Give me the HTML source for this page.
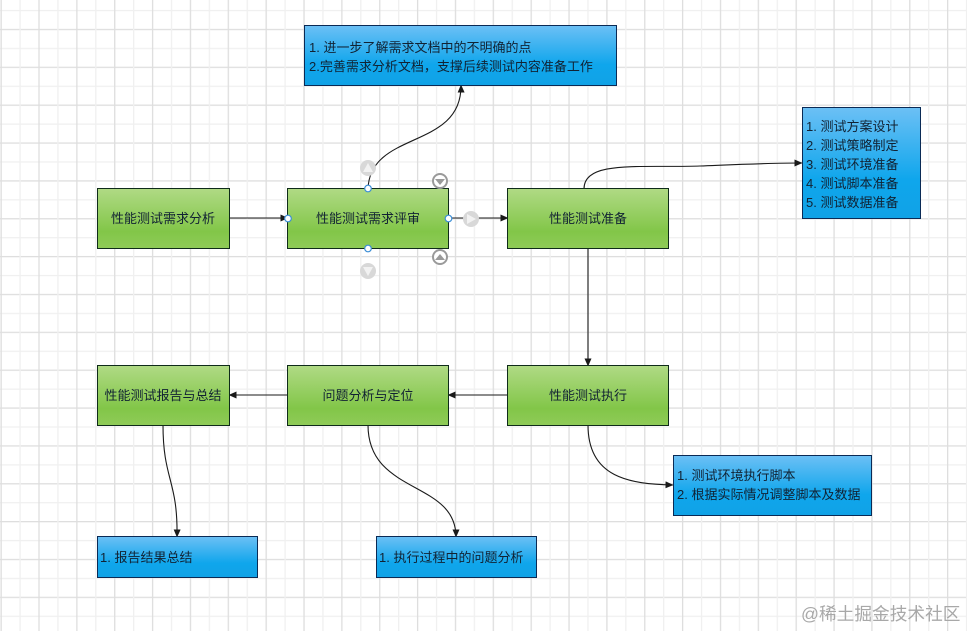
<!DOCTYPE html>
<html lang="zh">
<head>
<meta charset="utf-8">
<style>
html,body{margin:0;padding:0;background:#fff}
svg{display:block}
text{font-family:"Liberation Sans","Noto Sans CJK SC",sans-serif;font-size:13px;fill:#123}
</style>
</head>
<body>
<svg width="967" height="631" viewBox="0 0 967 631" xmlns="http://www.w3.org/2000/svg">
<defs>
<linearGradient id="g" x1="0" y1="0" x2="0" y2="1">
<stop offset="0" stop-color="#b0da85"/><stop offset=".72" stop-color="#82c648"/><stop offset="1" stop-color="#8fcb58"/>
</linearGradient>
<linearGradient id="b" x1="0" y1="0" x2="0" y2="1">
<stop offset="0" stop-color="#6cc0f5"/><stop offset=".65" stop-color="#0fa6ec"/><stop offset="1" stop-color="#10a2e6"/>
</linearGradient>
<marker id="a" markerWidth="8" markerHeight="7" refX="7.500" refY="3.500" orient="auto" markerUnits="userSpaceOnUse">
<path d="M0 0L8 3.500L0 7z" fill="#1a1a1a"/>
</marker>
<pattern id="gv" x="0.5" y="0" width="37.86" height="40" patternUnits="userSpaceOnUse">
<rect x="0" y="0" width="1.3" height="40" fill="#dedede"/>
<rect x="18.93" y="0" width="1.3" height="40" fill="#f0f0f0"/>
</pattern>
<pattern id="gh" x="0" y="9.9" width="40" height="37.86" patternUnits="userSpaceOnUse">
<rect x="0" y="0" width="40" height="1.3" fill="#f0f0f0"/>
<rect x="0" y="18.93" width="40" height="1.3" fill="#dedede"/>
</pattern>
</defs>
<rect width="967" height="631" fill="#fff"/>
<rect width="967" height="631" fill="url(#gh)"/>
<rect width="967" height="631" fill="url(#gv)"/>

<g fill="none" stroke="#1a1a1a" stroke-width="1.1">
<path d="M229 218H288" marker-end="url(#a)"/>
<path d="M448 218H508" marker-end="url(#a)"/>
<path d="M368 189C370 130 462 150 461 85" marker-end="url(#a)"/>
<path d="M584 189C584 160 640 168 700 166C750 164 770 163 802 163" marker-end="url(#a)"/>
<path d="M588 248V366" marker-end="url(#a)"/>
<path d="M508 395H448" marker-end="url(#a)"/>
<path d="M288 395H229" marker-end="url(#a)"/>
<path d="M588 425C588 478 630 484 673 485" marker-end="url(#a)"/>
<path d="M368 425C368 495 456 480 456 537" marker-end="url(#a)"/>
<path d="M163 425C163 480 178 480 177 537" marker-end="url(#a)"/>
</g>

<g stroke="#0f2b1a" stroke-width="1">
<rect x="97.5" y="188.5" width="132" height="60" fill="url(#g)"/>
<rect x="287.5" y="188.5" width="161" height="60" fill="url(#g)"/>
<rect x="507.5" y="188.5" width="161" height="60" fill="url(#g)"/>
<rect x="97.5" y="365.5" width="132" height="60" fill="url(#g)"/>
<rect x="287.5" y="365.5" width="161" height="60" fill="url(#g)"/>
<rect x="507.5" y="365.5" width="161" height="60" fill="url(#g)"/>
</g>
<g stroke="#0a2a55" stroke-width="1">
<rect x="304.5" y="25.5" width="312" height="60" fill="url(#b)"/>
<rect x="802.5" y="107.5" width="118" height="111" fill="url(#b)"/>
<rect x="673.5" y="455.5" width="198" height="60" fill="url(#b)"/>
<rect x="97.5" y="536.5" width="160" height="41" fill="url(#b)"/>
<rect x="376.5" y="536.5" width="160" height="41" fill="url(#b)"/>
</g>

<g text-anchor="middle">
<text x="163" y="223">性能测试需求分析</text>
<text x="368" y="223">性能测试需求评审</text>
<text x="588" y="223">性能测试准备</text>
<text x="163" y="400">性能测试报告与总结</text>
<text x="368" y="400">问题分析与定位</text>
<text x="588" y="400">性能测试执行</text>
</g>
<text x="309" y="52">1. 进一步了解需求文档中的不明确的点</text>
<text x="309" y="71">2.完善需求分析文档，支撑后续测试内容准备工作</text>
<text x="806" y="131">1. 测试方案设计</text>
<text x="806" y="150">2. 测试策略制定</text>
<text x="806" y="169">3. 测试环境准备</text>
<text x="806" y="188">4. 测试脚本准备</text>
<text x="806" y="207">5. 测试数据准备</text>
<text x="677" y="480">1. 测试环境执行脚本</text>
<text x="677" y="499">2. 根据实际情况调整脚本及数据</text>
<text x="100" y="562">1. 报告结果总结</text>
<text x="379" y="562">1. 执行过程中的问题分析</text>

<g fill="#d8d8d8">
<circle cx="368" cy="168" r="8"/>
<circle cx="471" cy="219" r="8"/>
<circle cx="368" cy="271" r="8"/>
</g>
<g fill="#f2f2f2">
<path d="M363 172L368 163L373 172z"/>
<path d="M467 214L476 219L467 224z"/>
<path d="M363 267L373 267L368 276z"/>
</g>
<g fill="#fff" stroke="#9a9a9a" stroke-width="2">
<circle cx="440" cy="181" r="7"/>
<circle cx="440" cy="257" r="7"/>
</g>
<g fill="#9a9a9a">
<path d="M435 179H445L440 185z"/>
<path d="M435 260H445L440 254z"/>
</g>
<g fill="#fff" stroke="#3d8fd6" stroke-width="1.2">
<circle cx="288" cy="218.500" r="3.300"/>
<circle cx="448.500" cy="218.500" r="3.300"/>
<circle cx="368" cy="188.500" r="3.300"/>
<circle cx="368" cy="248.500" r="3.300"/>
</g>
<text x="801" y="620" style="font-size:17.700px;fill:#a8a8a8">@稀土掘金技术社区</text>
</svg>
</body>
</html>
